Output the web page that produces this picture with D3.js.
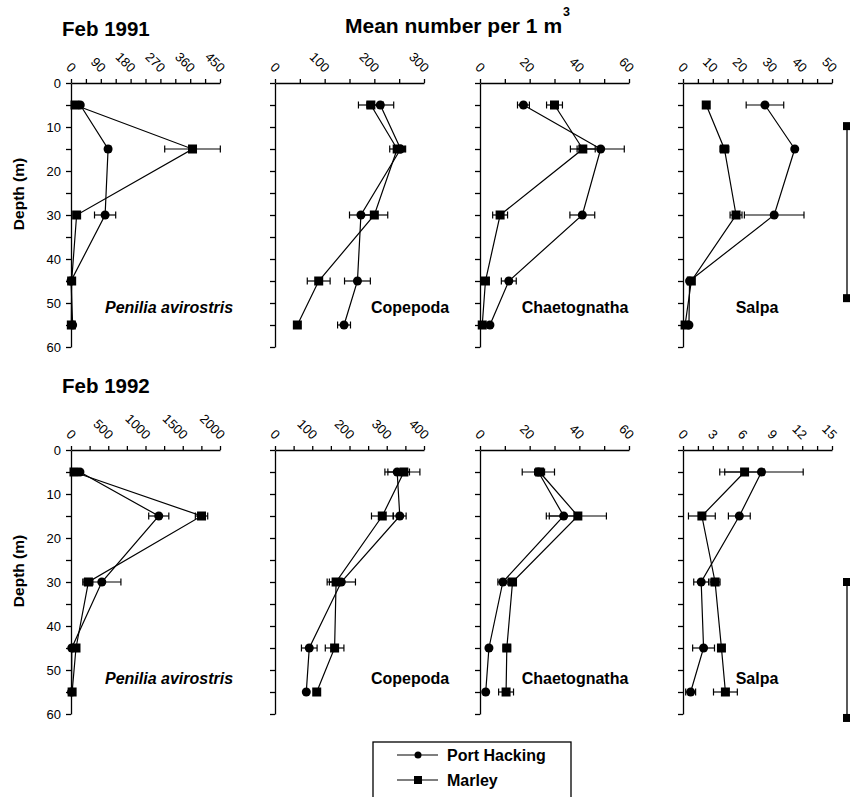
<!DOCTYPE html>
<html>
<head>
<meta charset="utf-8">
<script src="https://cdn.jsdelivr.net/npm/d3@7"></script>
<style>
  body { margin: 0; background: #fff; }
  svg { font-family: "Liberation Sans", Arial, sans-serif; }
</style>
</head>
<body>
<div id="chart"></div>
<script>
// sampling depths (m)
var depths = [5, 15, 30, 45, 55]
var species = ["Penilia avirostris", "Copepoda", "Chaetognatha", "Salpa"]
var years = ["Feb 1991", "Feb 1992"]
var seriesNames = ["Port Hacking", "Marley"]

// x axis extents and label steps, per year and species
var xMax = [[450, 300, 60, 50], [2000, 400, 60, 15]]
var xStep = [[90, 100, 20, 10], [500, 100, 20, 3]]

// Port Hacking means and errors
var ph1991 = [[28, 112, 103, 0, 5], [212, 253, 173, 166, 139], [17.5, 48.6, 41.2, 11.6, 4], [27.5, 37.5, 30.6, 2.2, 2]]
var phErr1991 = [[0, 8, 32, 0, 0], [27, 10, 23, 26, 13], [2.4, 9.5, 5, 3, 0], [6.3, 0, 10, 0, 0]]
var ph1992 = [[120, 1178, 414, 10, 8], [328, 335, 178, 92, 84], [23.5, 33.7, 9.2, 3.6, 2.3], [7.9, 5.67, 1.83, 2.07, 0.77]]
var phErr1992 = [[0, 135, 256, 0, 0], [33, 17, 38, 21, 0], [6.5, 7, 2, 0, 0], [4.2, 1.1, 0.75, 1.1, 0.5]]

// Marley means and errors
var mar1991 = [[12, 367, 17, 2, 1], [193, 246, 200, 88, 45], [30, 41.4, 8.1, 2.2, 0.9], [7.8, 13.9, 17.8, 2.8, 0.7]]
var marErr1991 = [[0, 84, 0, 0, 0], [25, 15, 27, 23, 0], [3.2, 5, 3, 0, 0], [0, 1.5, 2, 0, 0]]
var mar1992 = [[40, 1752, 234, 67, 15], [346, 288, 164, 160, 112], [24, 39.4, 13.1, 10.8, 10.5], [6.2, 1.9, 3.23, 3.87, 4.27]]
var marErr1992 = [[0, 83, 60, 0, 0], [43, 29, 18, 25, 0], [2, 11.5, 0, 1.5, 3], [2, 1.35, 0.5, 0, 1.2]]

// stray bars at the right edge, in depth units
var sideBars = [[9.8, 48.9], [30, 60.9]]

var ph = [ph1991, ph1992], phErr = [phErr1991, phErr1992]
var mar = [mar1991, mar1992], marErr = [marErr1991, marErr1992]

var width = 850, height = 797
var colX = [71, 275, 480, 683], panelW = 149
var rowTop = [83, 450], panelH = 264
var titleY = [36, 393], depthLabelY = [194, 571], speciesY = [313, 684]
var speciesX = [169, 410, 575, 757]

var svg = d3.select("#chart").append("svg")
  .attr("width", width)
  .attr("height", height)

var title = svg.append("text")
  .attr("x", 345).attr("y", 33)
  .attr("font-size", 21).attr("font-weight", "bold")
  .text("Mean number per 1 m")
svg.append("text")
  .attr("x", 345 + title.node().getComputedTextLength() + 1).attr("y", 16)
  .attr("font-size", 12.5).attr("font-weight", "bold")
  .text("3")

years.forEach(function(year, r) {
  svg.append("text")
    .attr("x", 62).attr("y", titleY[r])
    .attr("font-size", 20.5).attr("font-weight", "bold")
    .text(year)

  svg.append("text")
    .attr("transform", "translate(24," + depthLabelY[r] + ") rotate(-90)")
    .attr("text-anchor", "middle")
    .attr("font-size", 15.5).attr("font-weight", "bold")
    .text("Depth (m)")

  var y = d3.scaleLinear([0, 60], [rowTop[r], rowTop[r] + panelH])

  species.forEach(function(name, c) {
    var x = d3.scaleLinear([0, xMax[r][c]], [colX[c], colX[c] + panelW])
    var step = xStep[r][c]
    var g = svg.append("g")

    var xAxis = g.append("g")
      .attr("transform", "translate(0," + rowTop[r] + ")")
      .call(d3.axisTop(x)
        .tickValues(d3.range(0, xMax[r][c] + step / 4, step / 2))
        .tickFormat(function(d) { return Math.round(d / step * 1000) % 1000 === 0 ? d : "" })
        .tickSize(4).tickSizeOuter(0))
    xAxis.selectAll("text")
      .attr("x", null).attr("y", null).attr("dy", null)
      .attr("text-anchor", "end")
      .attr("transform", "translate(-1,-10) rotate(45)")

    g.append("g")
      .attr("transform", "translate(" + colX[c] + ",0)")
      .call(d3.axisLeft(y)
        .tickValues(d3.range(0, 61, 5))
        .tickFormat(function(d) { return c === 0 && d % 10 === 0 ? d : "" })
        .tickSize(5).tickPadding(5).tickSizeOuter(0))

    g.selectAll(".domain, .tick line").attr("stroke", "#000").attr("stroke-width", 1.3)
    g.selectAll(".tick text").attr("font-size", 13).attr("fill", "#000")
      .attr("font-family", "Liberation Sans, Arial, sans-serif")

    var series = [
      { vals: mar[r][c], errs: marErr[r][c], shape: "square" },
      { vals: ph[r][c], errs: phErr[r][c], shape: "circle" }
    ]

    var line = d3.line()
      .x(function(d) { return x(d[0]) })
      .y(function(d) { return y(d[1]) })

    series.forEach(function(s) {
      var pts = s.vals.map(function(v, i) { return [v, depths[i], s.errs[i]] })
      g.append("path")
        .attr("d", line(pts))
        .attr("fill", "none").attr("stroke", "#000").attr("stroke-width", 1.2)
    })

    series.forEach(function(s) {
      var pts = s.vals.map(function(v, i) { return [v, depths[i], s.errs[i]] })
        .filter(function(d) { return d[2] > 0 })
      var eb = g.append("g").attr("stroke", "#000").attr("stroke-width", 1.2)
      eb.selectAll(".bar").data(pts).join("line")
        .attr("x1", function(d) { return x(d[0] - d[2]) })
        .attr("x2", function(d) { return x(d[0] + d[2]) })
        .attr("y1", function(d) { return y(d[1]) })
        .attr("y2", function(d) { return y(d[1]) })
      ;[-1, 1].forEach(function(sign) {
        eb.selectAll(".cap" + sign).data(pts).join("line")
          .attr("x1", function(d) { return x(d[0] + sign * d[2]) })
          .attr("x2", function(d) { return x(d[0] + sign * d[2]) })
          .attr("y1", function(d) { return y(d[1]) - 3.5 })
          .attr("y2", function(d) { return y(d[1]) + 3.5 })
      })
    })

    series.forEach(function(s) {
      var pts = s.vals.map(function(v, i) { return [v, depths[i]] })
      if (s.shape === "square") {
        g.selectAll(".sq").data(pts).join("rect")
          .attr("x", function(d) { return x(d[0]) - 4.5 })
          .attr("y", function(d) { return y(d[1]) - 4.5 })
          .attr("width", 9).attr("height", 9)
      } else {
        g.selectAll(".ci").data(pts).join("circle")
          .attr("cx", function(d) { return x(d[0]) })
          .attr("cy", function(d) { return y(d[1]) })
          .attr("r", 4.5)
      }
    })

    g.append("text")
      .attr("x", speciesX[c]).attr("y", speciesY[r])
      .attr("text-anchor", "middle")
      .attr("font-size", 16).attr("font-weight", "bold")
      .attr("font-style", c === 0 ? "italic" : "normal")
      .text(name)
  })

  // the cut-off bar at the right edge
  var bar = svg.append("g")
  bar.append("line")
    .attr("x1", 847).attr("x2", 847)
    .attr("y1", y(sideBars[r][0])).attr("y2", y(sideBars[r][1]))
    .attr("stroke", "#000").attr("stroke-width", 1.3)
  bar.selectAll("rect").data(sideBars[r]).join("rect")
    .attr("x", 843).attr("y", function(d) { return y(d) - 4 })
    .attr("width", 8).attr("height", 8)
})

// legend
var legend = svg.append("g")
legend.append("rect")
  .attr("x", 373).attr("y", 742).attr("width", 198).attr("height", 80)
  .attr("fill", "none").attr("stroke", "#000").attr("stroke-width", 1.3)
seriesNames.forEach(function(name, i) {
  var ly = 755 + i * 25
  legend.append("line")
    .attr("x1", 397).attr("x2", 438).attr("y1", ly).attr("y2", ly)
    .attr("stroke", "#000").attr("stroke-width", 1.2)
  if (i === 0) {
    legend.append("circle").attr("cx", 418).attr("cy", ly).attr("r", 3.5)
  } else {
    legend.append("rect").attr("x", 414).attr("y", ly - 4).attr("width", 8).attr("height", 8)
  }
  legend.append("text")
    .attr("x", 447).attr("y", ly + 5.5)
    .attr("font-size", 16).attr("font-weight", "bold")
    .text(name)
})
</script>
</body>
</html>
